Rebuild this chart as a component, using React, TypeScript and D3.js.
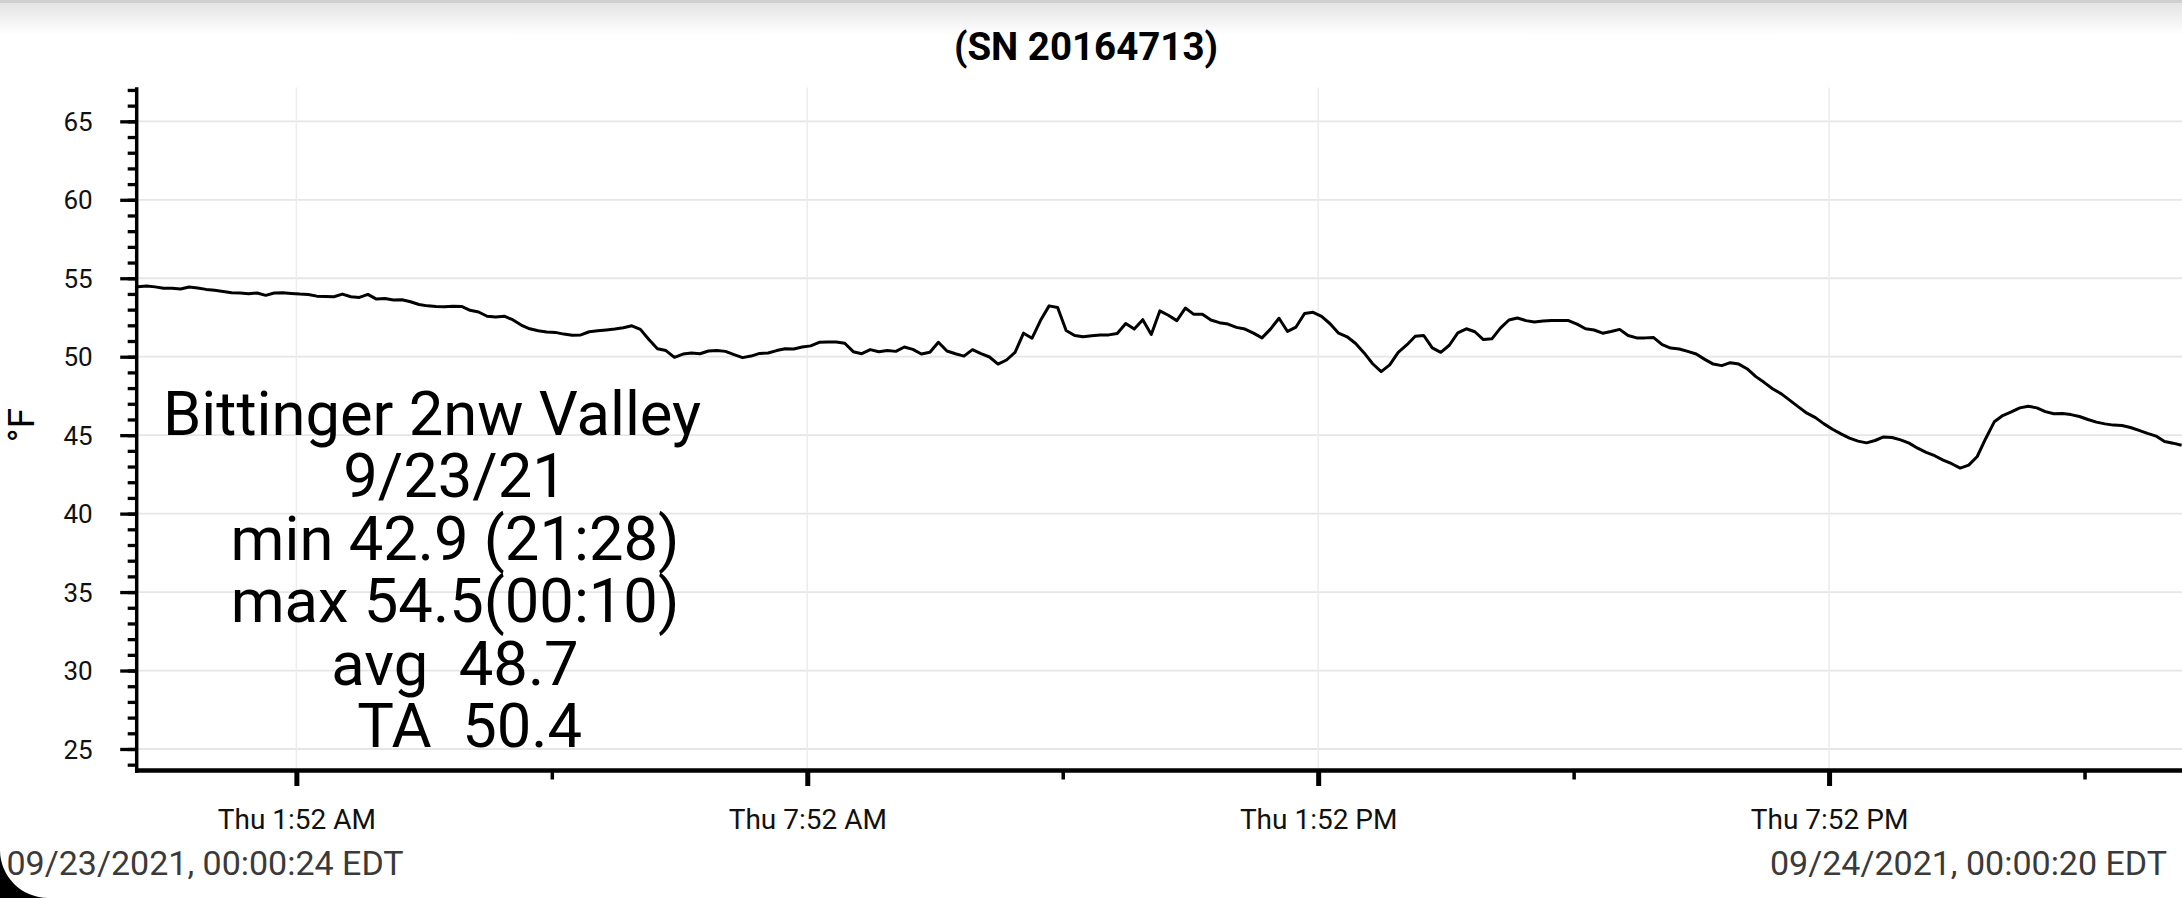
import * as d3 from "d3";
import { useEffect, useRef } from "react";

// logger info
const title = "(SN 20164713)";
const yLabel = "°F";
const startLabel = "09/23/2021, 00:00:24 EDT";
const endLabel = "09/24/2021, 00:00:20 EDT";
// spaces keep the original centring of the block
const annotationLines = [
  "Bittinger 2nw Valley   ",
  "9/23/21",
  "min 42.9 (21:28)",
  "max 54.5(00:10)",
  "avg  48.7",
  "  TA  50.4",
];

const startTime = new Date(2021, 8, 23, 0, 0, 24);
const endTime = new Date(2021, 8, 24, 0, 0, 20);
const sampleMinutes = 6;

// temperature readings, one every 6 minutes
const temps = [
  54.46, 54.5, 54.45, 54.36, 54.36, 54.31, 54.44, 54.38, 54.29, 54.23,
  54.16, 54.08, 54.06, 54.01, 54.06, 53.91, 54.06, 54.08, 54.03, 53.99,
  53.97, 53.86, 53.84, 53.82, 53.99, 53.82, 53.78, 53.97, 53.67, 53.71,
  53.61, 53.63, 53.5, 53.33, 53.24, 53.2, 53.18, 53.22, 53.2, 52.96,
  52.85, 52.58, 52.53, 52.58, 52.36, 52.02, 51.78, 51.65, 51.57, 51.55,
  51.44, 51.37, 51.39, 51.59, 51.65, 51.7, 51.76, 51.85, 51.97, 51.74,
  51.1, 50.51, 50.39, 49.96, 50.17, 50.24, 50.19, 50.36, 50.39, 50.34,
  50.13, 49.94, 50.04, 50.21, 50.24, 50.39, 50.51, 50.49, 50.62, 50.69,
  50.92, 50.94, 50.94, 50.86, 50.32, 50.19, 50.45, 50.32, 50.39, 50.34,
  50.62, 50.47, 50.17, 50.28, 50.92, 50.36, 50.19, 50.04, 50.45, 50.19,
  49.98, 49.53, 49.79, 50.28, 51.5, 51.18, 52.32, 53.24, 53.13, 51.67,
  51.35, 51.27, 51.33, 51.39, 51.39, 51.48, 52.12, 51.76, 52.36, 51.42,
  52.92, 52.64, 52.3, 53.1, 52.7, 52.7, 52.34, 52.17, 52.08, 51.87,
  51.76, 51.5, 51.2, 51.76, 52.45, 51.61, 51.89, 52.75, 52.83, 52.57,
  52.1, 51.5, 51.27, 50.84, 50.24, 49.55, 49.05, 49.48, 50.28, 50.75,
  51.3, 51.35, 50.56, 50.28, 50.73, 51.52, 51.78, 51.59, 51.09, 51.14,
  51.82, 52.34, 52.47, 52.3, 52.21, 52.27, 52.3, 52.3, 52.3, 52.08,
  51.78, 51.7, 51.5, 51.61, 51.74, 51.35, 51.2, 51.2, 51.22, 50.77,
  50.55, 50.49, 50.34, 50.17, 49.83, 49.53, 49.43, 49.62, 49.53, 49.22,
  48.73, 48.35, 47.94, 47.63, 47.22, 46.8, 46.4, 46.12, 45.72, 45.38,
  45.08, 44.81, 44.62, 44.51, 44.66, 44.89, 44.85, 44.7, 44.49, 44.17,
  43.9, 43.69, 43.41, 43.18, 42.9, 43.09, 43.64, 44.79, 45.85, 46.25,
  46.48, 46.74, 46.84, 46.74, 46.5, 46.36, 46.38, 46.31, 46.19, 46.0,
  45.83, 45.72, 45.64, 45.62, 45.49, 45.3, 45.11, 44.94, 44.6, 44.49,
  44.36,
];

// axis ticks
const majorTickTimes = [
  new Date(2021, 8, 23, 1, 52),
  new Date(2021, 8, 23, 7, 52),
  new Date(2021, 8, 23, 13, 52),
  new Date(2021, 8, 23, 19, 52),
];
const minorTickTimes = [
  new Date(2021, 8, 23, 4, 52),
  new Date(2021, 8, 23, 10, 52),
  new Date(2021, 8, 23, 16, 52),
  new Date(2021, 8, 23, 22, 52),
];
const yMajorTicks = [25, 30, 35, 40, 45, 50, 55, 60, 65];
const yMinorTicks = d3.range(24, 68);

const App = () => {
  const svgRef = useRef(null);

  useEffect(() => {
    const w = 2182;
    const h = 898;
    const axisX = 136.7;
    const axisY = 770.5;
    const font = "Roboto, 'Noto Sans', sans-serif";

    const svg = d3.select(svgRef.current).attr("width", w).attr("height", h);
    svg.selectAll("*").remove();

    svg.append("rect").attr("width", w).attr("height", h).attr("fill", "#fff");

    // toolbar shadow at the top
    const defs = svg.append("defs");
    const grad = defs
      .append("linearGradient")
      .attr("id", "shade")
      .attr("x1", 0)
      .attr("y1", 0)
      .attr("x2", 0)
      .attr("y2", 1);
    grad.append("stop").attr("offset", "0%").attr("stop-color", "#e4e4e4");
    grad.append("stop").attr("offset", "100%").attr("stop-color", "#ffffff");
    svg.append("rect").attr("y", 0).attr("width", w).attr("height", 3).attr("fill", "#cfcfcf");
    svg.append("rect").attr("y", 3).attr("width", w).attr("height", 32).attr("fill", "url(#shade)");

    const data = temps.map((v, i) => ({
      date: d3.timeMinute.offset(startTime, i * sampleMinutes),
      value: v,
    }));

    const xScale = d3.scaleTime().domain([startTime, endTime]).range([138, 2181.5]);
    const yScale = d3.scaleLinear().domain([23.75, 67.15]).range([768.6, 87.6]);

    // grid
    svg
      .append("g")
      .selectAll("line")
      .data(yMajorTicks)
      .enter()
      .append("line")
      .attr("x1", 138)
      .attr("x2", w)
      .attr("y1", (d) => yScale(d))
      .attr("y2", (d) => yScale(d))
      .attr("stroke", "#e6e6e6")
      .attr("stroke-width", 1.8);
    svg
      .append("g")
      .selectAll("line")
      .data(majorTickTimes)
      .enter()
      .append("line")
      .attr("x1", (d) => xScale(d))
      .attr("x2", (d) => xScale(d))
      .attr("y1", 87.6)
      .attr("y2", 768)
      .attr("stroke", "#ececec")
      .attr("stroke-width", 1.5);

    // the series
    const line = d3
      .line()
      .x((d) => xScale(d.date))
      .y((d) => yScale(d.value));
    svg
      .append("path")
      .datum(data)
      .attr("d", line)
      .attr("fill", "none")
      .attr("stroke", "#000")
      .attr("stroke-width", 3)
      .attr("stroke-linejoin", "round");

    // y axis
    const yMinor = svg
      .append("g")
      .attr("transform", `translate(${axisX},0)`)
      .call(d3.axisLeft(yScale).tickValues(yMinorTicks).tickSize(9).tickSizeOuter(0).tickFormat(() => ""));
    yMinor.select(".domain").remove();
    yMinor.selectAll("line").attr("stroke-width", 3.3);

    const yMajor = svg
      .append("g")
      .attr("transform", `translate(${axisX},0)`)
      .call(d3.axisLeft(yScale).tickValues(yMajorTicks).tickSize(16.5).tickSizeOuter(0));
    yMajor.select(".domain").remove();
    yMajor.selectAll("line").attr("stroke-width", 3.3);
    yMajor.attr("font-family", font).attr("font-size", 26);
    yMajor.selectAll("text").attr("x", -44).attr("dy", "0.35em").attr("fill", "#111");

    // x axis
    const xMinor = svg
      .append("g")
      .attr("transform", `translate(0,${axisY})`)
      .call(d3.axisBottom(xScale).tickValues(minorTickTimes).tickSize(9).tickSizeOuter(0).tickFormat(() => ""));
    xMinor.select(".domain").remove();
    xMinor.selectAll("line").attr("stroke-width", 3.5);

    const xMajor = svg
      .append("g")
      .attr("transform", `translate(0,${axisY})`)
      .call(
        d3
          .axisBottom(xScale)
          .tickValues(majorTickTimes)
          .tickSize(15.5)
          .tickSizeOuter(0)
          .tickFormat(d3.timeFormat("%a %-I:%M %p"))
      );
    xMajor.select(".domain").remove();
    xMajor.selectAll("line").attr("stroke-width", 5);
    xMajor.attr("font-family", font).attr("font-size", 28);
    xMajor.selectAll("text").attr("y", 58.8).attr("dy", "0").attr("fill", "#111");

    // axis lines
    svg
      .append("line")
      .attr("x1", axisX)
      .attr("x2", axisX)
      .attr("y1", 87.3)
      .attr("y2", 772.7)
      .attr("stroke", "#000")
      .attr("stroke-width", 3.5);
    svg
      .append("line")
      .attr("x1", 135)
      .attr("x2", w)
      .attr("y1", axisY)
      .attr("y2", axisY)
      .attr("stroke", "#000")
      .attr("stroke-width", 4.4);

    // titles
    svg
      .append("text")
      .text(title)
      .attr("x", 1086)
      .attr("y", 60)
      .attr("text-anchor", "middle")
      .attr("font-family", font)
      .attr("font-weight", "bold")
      .attr("font-size", 38.5)
      .attr("fill", "#000");

    svg
      .append("text")
      .text(yLabel)
      .attr("transform", "translate(33.5,425) rotate(-90)")
      .attr("text-anchor", "middle")
      .attr("font-family", font)
      .attr("font-size", 37)
      .attr("fill", "#000");

    // station summary block
    svg
      .append("g")
      .selectAll("text")
      .data(annotationLines)
      .enter()
      .append("text")
      .text((d) => d)
      .attr("x", 455)
      .attr("y", (d, i) => 435 + i * 62.4)
      .attr("text-anchor", "middle")
      .attr("xml:space", "preserve")
      .style("white-space", "pre")
      .attr("font-family", font)
      .attr("font-size", 61.5)
      .attr("fill", "#000");

    // start / end stamps
    svg
      .append("text")
      .text(startLabel)
      .attr("x", 6.5)
      .attr("y", 875)
      .attr("font-family", font)
      .attr("font-size", 34)
      .attr("fill", "#3a3a3a");
    svg
      .append("text")
      .text(endLabel)
      .attr("x", 2167)
      .attr("y", 875)
      .attr("text-anchor", "end")
      .attr("font-family", font)
      .attr("font-size", 34)
      .attr("fill", "#3a3a3a");

    // rounded screen corner
    svg.append("path").attr("d", "M0,850 A48,48 0 0 0 48,898 L0,898 Z").attr("fill", "#000");
  }, []);

  return (
    <div style={{ position: "absolute", left: 0, top: 0 }}>
      <svg ref={svgRef} style={{ display: "block" }}></svg>
    </div>
  );
};

export default App;
